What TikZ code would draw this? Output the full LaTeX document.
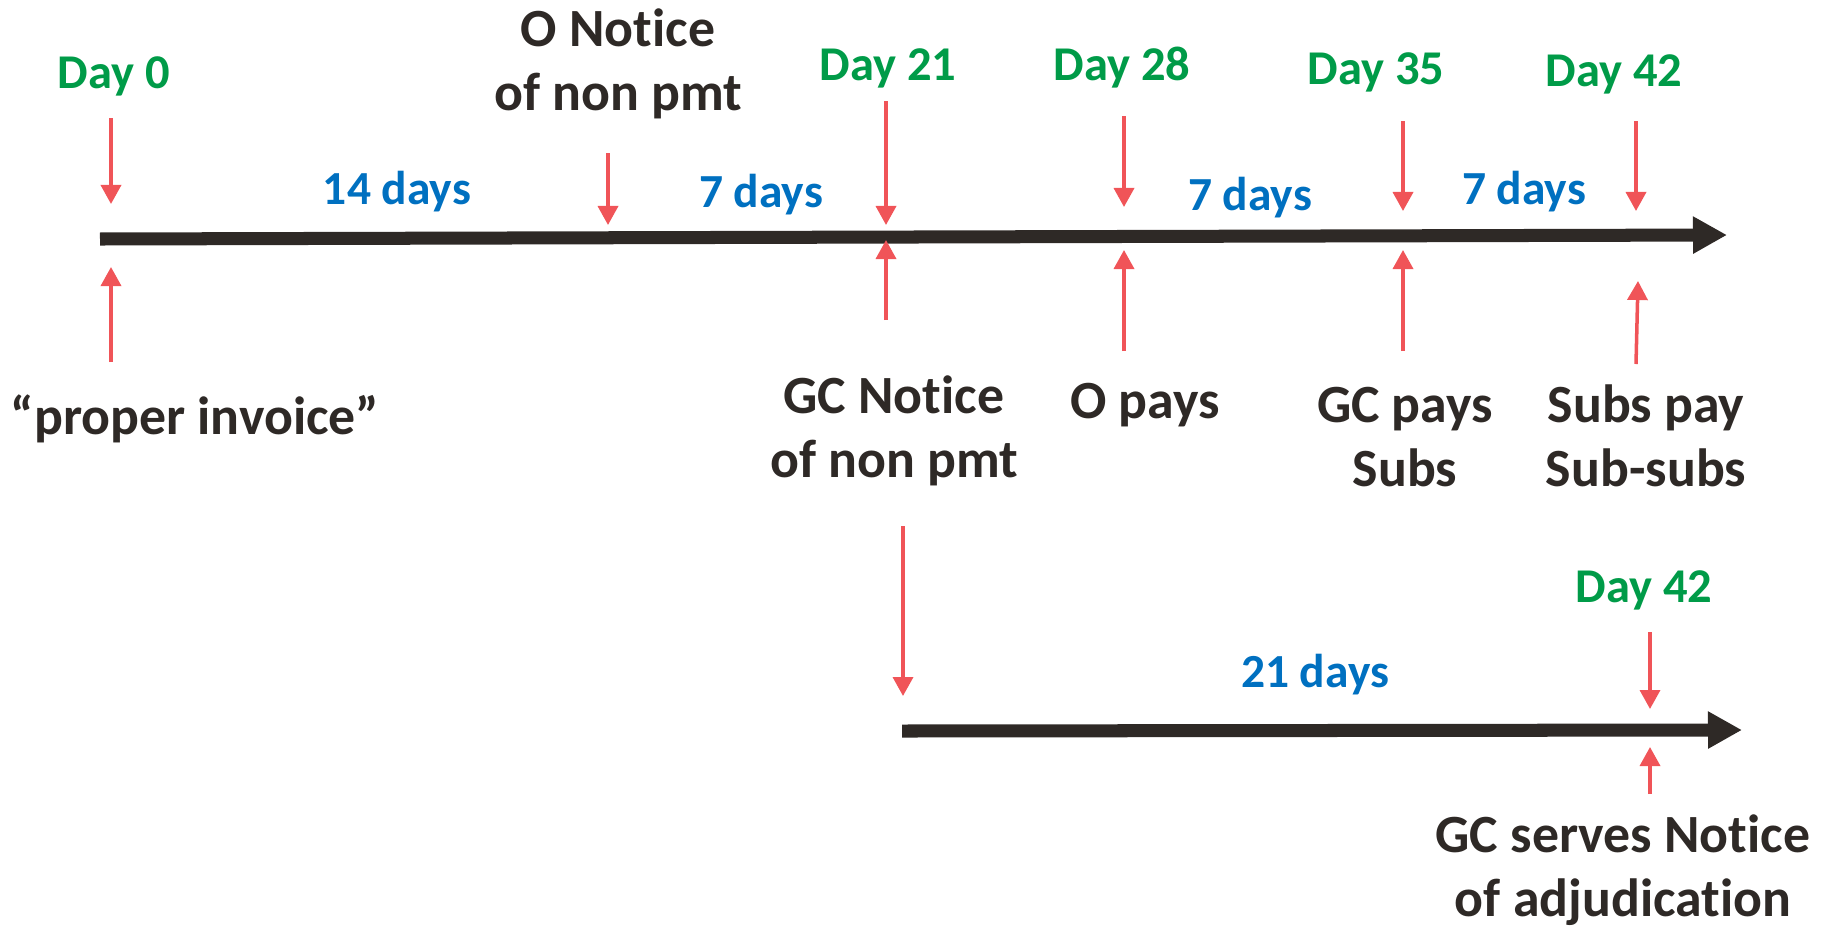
\documentclass[tikz,border=0pt]{standalone}
\usepackage{fontspec}
\setmainfont{Carlito}[Ligatures=NoCommon]
\usetikzlibrary{arrows.meta}
\definecolor{daygreen}{RGB}{0,155,72}
\definecolor{spanblue}{RGB}{0,112,192}
\definecolor{markred}{RGB}{240,84,88}
\definecolor{inkdark}{RGB}{46,41,38}

\begin{document}
\begin{tikzpicture}[x=0.01cm,y=-0.01cm]
\tikzstyle{every node}=[inner sep=0pt]
\tikzstyle{day}=[text=daygreen, font=\bfseries\fontsize{13.8}{16}\selectfont]
\tikzstyle{span}=[text=spanblue, font=\bfseries\fontsize{13.5}{16}\selectfont]
\tikzstyle{event}=[text=inkdark, align=center, font=\bfseries\fontsize{15.3}{18.2}\selectfont]
\tikzstyle{tick}=[draw=markred, line width=1pt, -{Triangle[length=0.19cm,width=0.2cm]}]
\tikzstyle{axis}=[draw=inkdark, line width=3.7pt, -{Triangle[length=0.34cm,width=0.35cm]}]
\useasboundingbox (0,0) rectangle (1827,927);

\node at (114,76) [day] (day0) {Day 0};
\node at (888,68) [day] (day21) {Day 21};
\node at (1122,68) [day] (day28) {Day 28};
\node at (1376,72) [day] (day35) {Day 35};
\node at (1614,74) [day] (day42) {Day 42};
\node at (1644,590) [day] (day42b) {Day 42};

\node at (397,192) [span] (span14) {14 days};
\node at (761,195) [span] (span7a) {7 days};
\node at (1250,198) [span] (span7b) {7 days};
\node at (1524,192) [span] (span7c) {7 days};
\node at (1315,675) [span] (span21) {21 days};

\node at (618,64) [event] (onotice) {O Notice\\of non pmt};
\node at (195,419) [event] (invoice) {“proper invoice”};
\node at (894,431) [event] (gcnotice) {GC Notice\\of non pmt};
\node at (1145,405) [event] (opays) {O pays};
\node at (1405,437) [event] (gcpays) {GC pays\\Subs};
\node at (1646,436) [event] (subspay) {Subs pay\\Sub-subs};
\node at (1623,870) [event] (adjud) {GC serves Notice\\of adjudication};

\coordinate (main0) at (100,239);
\coordinate (main1) at (1727,235);
\coordinate (second0) at (902,731);
\coordinate (second1) at (1742,730);

\coordinate (t0a) at (111,118);   \coordinate (t0b) at (111,204);
\coordinate (tna) at (608,153);   \coordinate (tnb) at (608,225);
\coordinate (t21a) at (886,101);  \coordinate (t21b) at (886,225);
\coordinate (t28a) at (1124,116); \coordinate (t28b) at (1124,207);
\coordinate (t35a) at (1403,121); \coordinate (t35b) at (1403,211);
\coordinate (t42a) at (1636,121); \coordinate (t42b) at (1636,211);

\coordinate (u0a) at (111,362);   \coordinate (u0b) at (111,267);
\coordinate (u21a) at (886,320);  \coordinate (u21b) at (886,240);
\coordinate (u28a) at (1124,351); \coordinate (u28b) at (1124,250);
\coordinate (u35a) at (1403,351); \coordinate (u35b) at (1403,250);
\coordinate (u42a) at (1636,364); \coordinate (u42b) at (1638,281);

\coordinate (b21a) at (903,526);  \coordinate (b21b) at (903,696);
\coordinate (b42a) at (1650,632); \coordinate (b42b) at (1650,709);
\coordinate (c42a) at (1650,794); \coordinate (c42b) at (1650,747);

\draw[axis] (main0) -- (main1);
\draw[axis] (second0) -- (second1);

\draw[tick] (t0a) -- (t0b);
\draw[tick] (tna) -- (tnb);
\draw[tick] (t21a) -- (t21b);
\draw[tick] (t28a) -- (t28b);
\draw[tick] (t35a) -- (t35b);
\draw[tick] (t42a) -- (t42b);
\draw[tick] (u0a) -- (u0b);
\draw[tick] (u21a) -- (u21b);
\draw[tick] (u28a) -- (u28b);
\draw[tick] (u35a) -- (u35b);
\draw[tick] (u42a) -- (u42b);
\draw[tick] (b21a) -- (b21b);
\draw[tick] (b42a) -- (b42b);
\draw[tick] (c42a) -- (c42b);
\end{tikzpicture}
\end{document}
